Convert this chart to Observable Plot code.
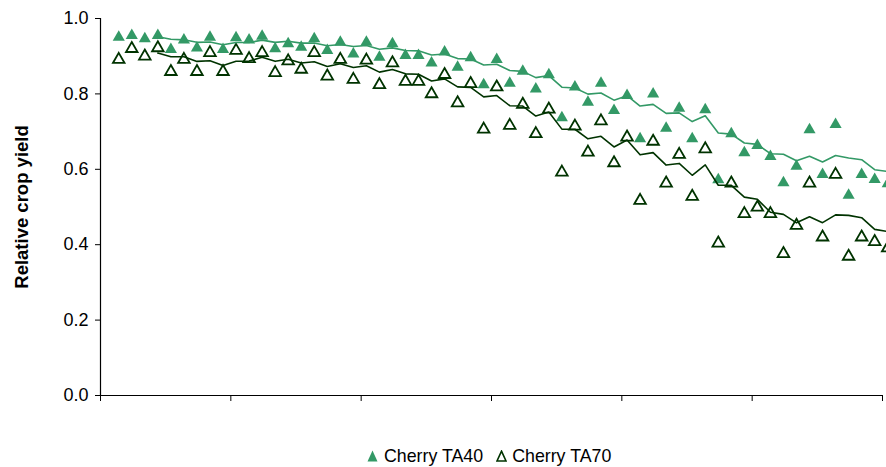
<!DOCTYPE html>
<html>
<head>
<meta charset="utf-8">
<script src="https://cdn.jsdelivr.net/npm/d3@7"></script>
<script src="https://cdn.jsdelivr.net/npm/@observablehq/plot@0.6"></script>
<style>
  body { margin: 0; background: #fff; font-family: "Liberation Sans", Arial, sans-serif; }
  #wrap { position: relative; width: 886px; height: 467px; overflow: hidden; background: #fff; }
  #legend { position: absolute; left: 367px; top: 446px; height: 20px; display: flex; align-items: center;
            font-size: 17.8px; color: #000; white-space: nowrap; line-height: 20px; }
  #legend svg { display: block; }
</style>
</head>
<body>
<div id="wrap"></div>
<script>
// x position of each observation (uniform category spacing on the x axis)
const xPos = d3.range(60).map(i => i + 1.4);

// Relative crop yield, Cherry TA40 (filled triangles)
const ta40 = [
  0.950, 0.955, 0.946, 0.955, 0.918, 0.943, 0.922, 0.950, 0.918, 0.949,
  0.943, 0.953, 0.920, 0.933, 0.924, 0.946, 0.915, 0.937, 0.906, 0.937,
  0.897, 0.933, 0.902, 0.902, 0.882, 0.911, 0.871, 0.896, 0.824, 0.891,
  0.828, 0.860, 0.813, 0.851, 0.737, 0.818, 0.778, 0.828, 0.756, 0.796,
  0.681, 0.800, 0.709, 0.762, 0.681, 0.758, 0.572, 0.694, 0.644, 0.663,
  0.634, 0.564, 0.608, 0.705, 0.586, 0.719, 0.531, 0.586, 0.573, 0.562
];

// Relative crop yield, Cherry TA70 (open triangles)
const ta70 = [
  0.891, 0.920, 0.900, 0.922, 0.859, 0.891, 0.859, 0.909, 0.859, 0.915,
  0.893, 0.909, 0.856, 0.887, 0.865, 0.909, 0.847, 0.891, 0.838, 0.889,
  0.824, 0.882, 0.833, 0.833, 0.800, 0.851, 0.776, 0.827, 0.706, 0.818,
  0.716, 0.772, 0.694, 0.759, 0.592, 0.714, 0.645, 0.728, 0.617, 0.685,
  0.517, 0.674, 0.563, 0.639, 0.528, 0.654, 0.404, 0.563, 0.482, 0.499,
  0.482, 0.376, 0.451, 0.563, 0.420, 0.586, 0.369, 0.420, 0.408, 0.391
];

const seriesNames = ["Cherry TA40", "Cherry TA70"];
const yLabel = "Relative crop yield";

const rows = xPos.map((x, i) => ({x, ta40: ta40[i], ta70: ta70[i]}));

const colFill = "#339966";
const colDark = "#003300";

// 5-point trailing moving average trendline
const ma = {k: 5, anchor: "end", strict: false, reduce: v => v.length < 4 ? NaN : d3.mean(v)};

const chart = Plot.plot({
  width: 886,
  height: 430,
  marginTop: 18,
  marginBottom: 35,
  marginLeft: 100,
  marginRight: 4,
  style: {fontFamily: "'Liberation Sans', Arial, sans-serif", fontSize: "18px", background: "white", overflow: "visible", color: "#000"},
  x: {domain: [0, 60], ticks: 6, tickFormat: () => "", tickSize: 6, label: null},
  y: {domain: [0, 1], ticks: 5, tickFormat: d3.format(".1f"), tickSize: 5, tickPadding: 7, label: null},
  marks: [
    Plot.ruleX([0], {stroke: "#000", strokeWidth: 1.2}),
    Plot.ruleY([0], {stroke: "#000", strokeWidth: 1.2}),
    Plot.dot(rows, {x: "x", y: "ta40", symbol: "triangle", r: 4.5, fill: colFill, stroke: "none"}),
    Plot.dot(rows, {x: "x", y: "ta70", symbol: "triangle", r: 4.3, fill: "none", stroke: colDark, strokeWidth: 1.8}),
    Plot.line(rows, Plot.windowY(ma, {x: "x", y: "ta40", stroke: colFill, strokeWidth: 1.6})),
    Plot.line(rows, Plot.windowY(ma, {x: "x", y: "ta70", stroke: colDark, strokeWidth: 1.6})),
    Plot.text([yLabel], {frameAnchor: "left", textAnchor: "middle", dx: -78, rotate: -90, fontWeight: "bold", fontSize: 18.5, fill: "#000"})
  ]
});

const wrap = document.getElementById("wrap");
wrap.appendChild(chart);

const legend = document.createElement("div");
legend.id = "legend";
legend.innerHTML =
  `<svg width="11" height="12" viewBox="0 0 11 12"><polygon points="5.5,0.5 10.5,11.5 0.5,11.5" fill="${colFill}"/></svg>` +
  `<span style="margin-left:6px">${seriesNames[0]}</span>` +
  `<svg width="11" height="12" viewBox="0 0 11 12" style="margin-left:13px"><polygon points="5.5,1.2 10,11 1,11" fill="none" stroke="${colDark}" stroke-width="1.6"/></svg>` +
  `<span style="margin-left:5px">${seriesNames[1]}</span>`;
wrap.appendChild(legend);
</script>
</body>
</html>
